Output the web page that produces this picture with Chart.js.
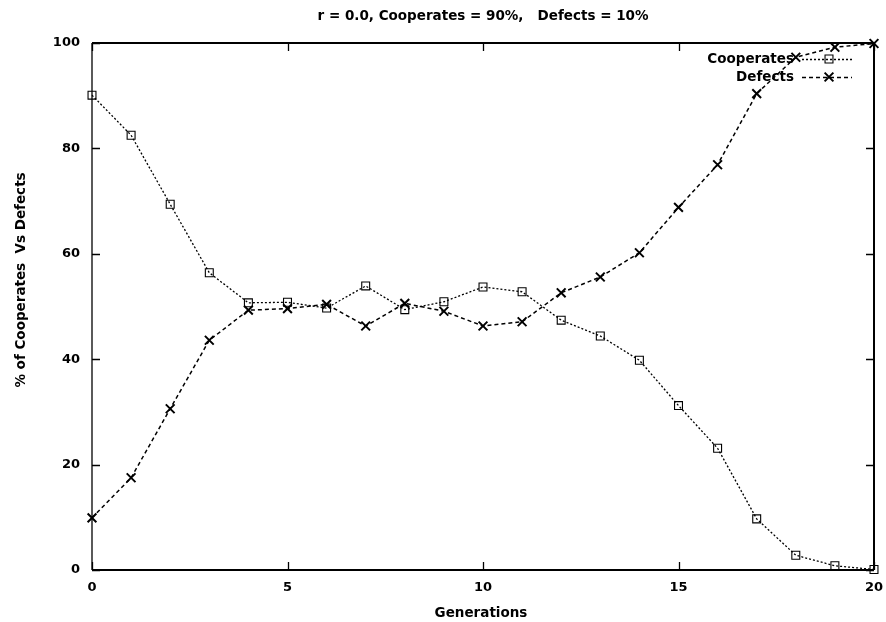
<!DOCTYPE html>
<html>
<head>
<meta charset="utf-8">
<script src="https://cdn.jsdelivr.net/npm/chart.js@4"></script>
<style>
  html, body { margin: 0; padding: 0; background: #fff; }
  #wrap { width: 886px; height: 622px; }
</style>
</head>
<body>
<div id="wrap"><canvas id="c" width="886" height="622"></canvas></div>
<script>
// ---- data ----
const generations = [0, 1, 2, 3, 4, 5, 6, 7, 8, 9, 10, 11, 12, 13, 14, 15, 16, 17, 18, 19, 20];
const cooperates = [90.1, 82.5, 69.4, 56.4, 50.7, 50.8, 49.7, 53.9, 49.4, 50.9, 53.7, 52.8, 47.4, 44.4, 39.8, 31.2, 23.1, 9.7, 2.8, 0.8, 0.1];
const defects = [9.9, 17.5, 30.6, 43.6, 49.3, 49.6, 50.4, 46.3, 50.6, 49.1, 46.3, 47.1, 52.6, 55.6, 60.2, 68.8, 76.9, 90.4, 97.3, 99.2, 99.9];
const xTickValues = [0, 5, 10, 15, 20];
const yTickValues = [0, 20, 40, 60, 80, 100];
const seriesNames = ['Cooperates', 'Defects'];
const titleText = 'r = 0.0, Cooperates = 90%,   Defects = 10%';
const xTitle = 'Generations';
const yTitle = '% of Cooperates  Vs Defects';

const FONT = 'bold 13.5px "DejaVu Sans"';

const coopStyle = { dash: [2, 2], width: 1.3, point: 'rect', radius: 5.6, pointWidth: 1.1 };
const defStyle = { dash: [4, 3], width: 1.5, point: 'crossRot', radius: 6.2, pointWidth: 2 };

function toPoints(vals) { return generations.map((g, i) => ({ x: g, y: vals[i] })); }

function drawMarker(ctx, style, x, y) {
  ctx.save();
  ctx.setLineDash([]);
  ctx.lineWidth = style.pointWidth;
  ctx.strokeStyle = '#000';
  ctx.beginPath();
  if (style.point === 'rect') {
    const s = style.radius / Math.SQRT2;
    ctx.rect(x - s, y - s, 2 * s, 2 * s);
  } else {
    const o = style.radius * Math.SQRT1_2;
    ctx.moveTo(x - o, y - o); ctx.lineTo(x + o, y + o);
    ctx.moveTo(x - o, y + o); ctx.lineTo(x + o, y - o);
  }
  ctx.stroke();
  ctx.restore();
}

const framePlugin = {
  id: 'frame',
  beforeDatasetsDraw(chart) {
    const { ctx, chartArea: a, scales: { x, y } } = chart;
    ctx.save();
    ctx.strokeStyle = '#000';
    ctx.setLineDash([]);
    ctx.lineWidth = 2;
    ctx.beginPath();
    ctx.moveTo(a.left, a.top); ctx.lineTo(a.right, a.top);
    ctx.moveTo(a.left, a.bottom); ctx.lineTo(a.right, a.bottom);
    ctx.moveTo(a.right, a.top); ctx.lineTo(a.right, a.bottom);
    ctx.stroke();
    ctx.lineWidth = 1.3;
    ctx.beginPath();
    ctx.moveTo(a.left, a.top); ctx.lineTo(a.left, a.bottom);
    ctx.stroke();
    const tl = 8;
    ctx.lineWidth = 1.3;
    ctx.beginPath();
    xTickValues.forEach(v => {
      const px = Math.round(x.getPixelForValue(v)) + 0.5;
      ctx.moveTo(px, a.bottom); ctx.lineTo(px, a.bottom - tl);
      ctx.moveTo(px, a.top); ctx.lineTo(px, a.top + tl);
    });
    yTickValues.forEach(v => {
      const py = Math.round(y.getPixelForValue(v)) + 0.5;
      ctx.moveTo(a.left, py); ctx.lineTo(a.left + tl, py);
      ctx.moveTo(a.right, py); ctx.lineTo(a.right - tl, py);
    });
    ctx.stroke();
    ctx.restore();
  },
  afterDraw(chart) {
    const { ctx, chartArea: a } = chart;
    ctx.save();
    ctx.fillStyle = '#000';
    ctx.font = FONT;
    ctx.textBaseline = 'middle';
    ctx.textAlign = 'center';
    ctx.fillText(titleText, 483, 16);
    ctx.fillText(xTitle, 481, 613);
    ctx.save();
    ctx.translate(21, 280);
    ctx.rotate(-Math.PI / 2);
    ctx.fillText(yTitle, 0, 0);
    ctx.restore();
    const rows = [[seriesNames[0], coopStyle, 59], [seriesNames[1], defStyle, 77]];
    rows.forEach(([name, st, ry]) => {
      ctx.textAlign = 'right';
      ctx.fillStyle = '#000';
      ctx.fillText(name, 794, ry);
      ctx.save();
      ctx.strokeStyle = '#000';
      ctx.lineWidth = st.width;
      ctx.setLineDash(st.dash);
      ctx.beginPath();
      ctx.moveTo(802, ry + 0.5); ctx.lineTo(852, ry + 0.5);
      ctx.stroke();
      ctx.restore();
      drawMarker(ctx, st, 829, ry);
    });
    ctx.restore();
  }
};

function ds(label, vals, st) {
  return {
    label,
    data: toPoints(vals),
    borderColor: '#000',
    borderWidth: st.width,
    borderDash: st.dash,
    backgroundColor: 'transparent',
    pointStyle: st.point,
    pointRadius: st.radius,
    pointBorderWidth: st.pointWidth,
    pointBorderColor: '#000',
    pointBackgroundColor: 'transparent',
    tension: 0,
    fill: false,
    clip: false
  };
}

new Chart(document.getElementById('c'), {
  type: 'line',
  data: {
    datasets: [ds(seriesNames[0], cooperates, coopStyle), ds(seriesNames[1], defects, defStyle)]
  },
  options: {
    responsive: false,
    animation: false,
    devicePixelRatio: 1,
    layout: { padding: { top: 43, right: 0, left: 0, bottom: 0 } },
    plugins: { legend: { display: false }, title: { display: false }, tooltip: { enabled: false } },
    scales: {
      x: {
        type: 'linear', min: 0, max: 20,
        grid: { display: false, drawTicks: false },
        border: { display: false },
        afterBuildTicks: s => { s.ticks = xTickValues.map(v => ({ value: v })); },
        afterFit: s => { s.height = 52; s.paddingRight = 12; s.paddingLeft = 0; },
        ticks: { color: '#000', font: { family: 'DejaVu Sans', size: 13, weight: 'bold' }, padding: 10, maxRotation: 0 }
      },
      y: {
        type: 'linear', min: 0, max: 100,
        grid: { display: false, drawTicks: false },
        border: { display: false },
        afterBuildTicks: s => { s.ticks = yTickValues.map(v => ({ value: v })); },
        afterFit: s => { s.width = 92; },
        ticks: { color: '#000', font: { family: 'DejaVu Sans', size: 13, weight: 'bold' }, padding: 12 }
      }
    }
  },
  plugins: [framePlugin]
});
</script>
</body>
</html>
